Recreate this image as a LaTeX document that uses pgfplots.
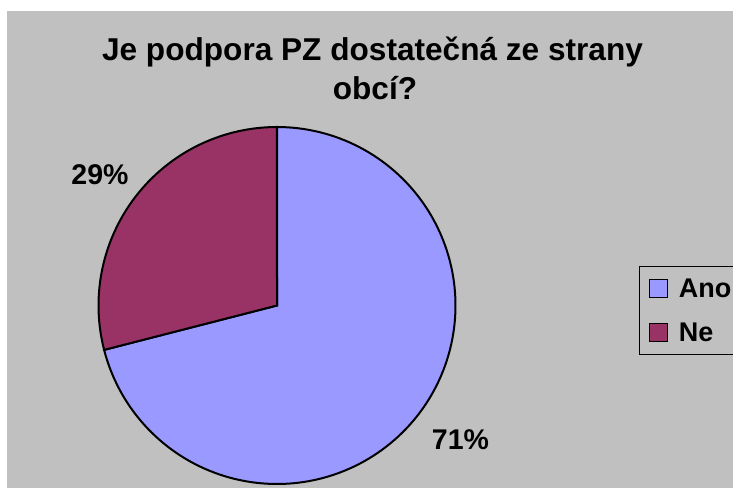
\documentclass[border=0pt]{standalone}
\usepackage{pgfplots}
\pgfplotsset{compat=1.18}
\usepackage{pgfplotstable}
\usepackage{fontspec}
\setmainfont{Liberation Sans}
\definecolor{bg}{HTML}{C0C0C0}
\definecolor{ano}{HTML}{9999FF}
\definecolor{ne}{HTML}{993366}
\pgfplotstableread{
label value
Ano 71
Ne 29
}\piedata
\pgfplotstablegetelem{0}{value}\of\piedata \let\valA\pgfplotsretval
\pgfplotstablegetelem{1}{value}\of\piedata \let\valB\pgfplotsretval
\pgfmathsetmacro\angA{90-3.6*\valA}
\pgfmathsetmacro\angB{\angA-3.6*\valB}
\begin{document}
\begin{tikzpicture}
\useasboundingbox (0,0) rectangle (733pt,488pt);
\fill[bg] (7pt,0pt) rectangle (740pt,477pt);
\begin{axis}[
  at={(7pt,0pt)}, anchor=south west,
  scale only axis, width=726pt, height=477pt,
  xmin=-270, xmax=456, ymin=-182.5, ymax=294.5,
  hide axis, clip=false,
  legend image code/.code={\draw[#1, line width=1.3pt] (0pt,-9pt) rectangle (18pt,9pt);},
  legend cell align=left,
  legend style={at={(axis cs:362,39.5)}, anchor=north west, draw=black, line width=1.3pt, fill=none,
    font=\fontsize{27}{30}\selectfont\bfseries, inner xsep=9pt, inner ysep=12pt, row sep=24pt,
    nodes={inner sep=0pt},
    /tikz/every odd column/.append style={column sep=11pt}},
]
\addplot[draw=black, line width=2pt, fill=ano, data cs=polar, domain=90:\angA, samples=150]
  (x,178.5) -- (axis cs:0,0) -- cycle;
\addlegendentry{Ano}
\addplot[draw=black, line width=2pt, fill=ne, data cs=polar, domain=\angA:\angB, samples=80]
  (x,178.5) -- (axis cs:0,0) -- cycle;
\addlegendentry{Ne}
\node[font=\fontsize{31.6}{38}\selectfont\bfseries, anchor=base] at (axis cs:95.5,244.5) {Je podpora PZ dostatečná ze strany};
\node[font=\fontsize{31.6}{38}\selectfont\bfseries, anchor=base] at (axis cs:98,205.5) {obcí?};
\node[font=\fontsize{28.5}{32}\selectfont\bfseries, anchor=base] at (axis cs:-177,120.5) {29\%};
\node[font=\fontsize{28.5}{32}\selectfont\bfseries, anchor=base] at (axis cs:183.5,-143.5) {71\%};
\end{axis}
\end{tikzpicture}
\end{document}
